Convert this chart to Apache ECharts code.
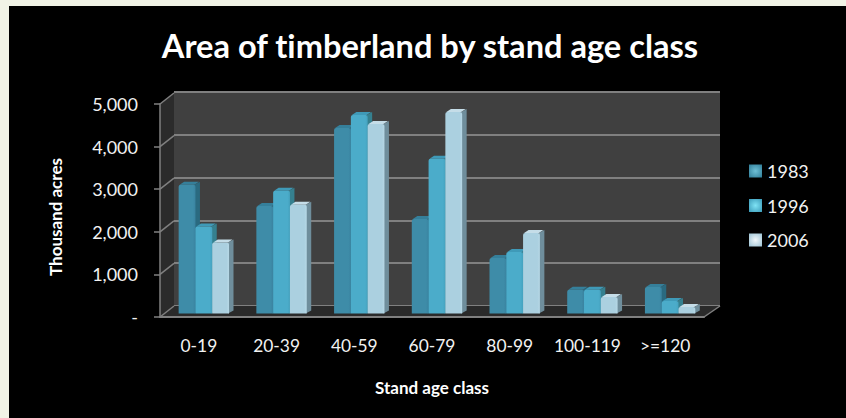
<!DOCTYPE html>
<html>
<head>
<meta charset="utf-8">
<title>Area of timberland by stand age class</title>
<script src="https://cdn.jsdelivr.net/npm/echarts@6/dist/echarts.min.js"></script>
<style>
  html, body { margin: 0; padding: 0; background: #f1f3e6; overflow: hidden; }
  #panel { position: absolute; left: 9px; top: 6px; right: 0; bottom: 0; background: #000; }
  #chart { position: absolute; left: 0; top: 0; width: 846px; height: 418px; }
  #chart text { font-variant-ligatures: none; }
</style>
</head>
<body>
<div id="panel"></div>
<div id="chart"></div>
<script>
var categories = ['0-19', '20-39', '40-59', '60-79', '80-99', '100-119', '>=120'];
var values1983 = [3020, 2525, 4355, 2220, 1305, 555, 625];
var values1996 = [2040, 2880, 4660, 3630, 1445, 555, 295];
var values2006 = [1665, 2550, 4450, 4730, 1890, 390, 155];
var yTicks = [0, 1000, 2000, 3000, 4000, 5000];

var fontName = 'Lato';
var frameColor = '#808080';
var depthX = 14;
var depthY = 11;

var chart = echarts.init(document.getElementById('chart'), null, { renderer: 'svg' });

// side wall, floor and the little diagonals joining front ticks to the back wall
var renderFrame = function(params, api) {
  var box = params.coordSys;
  var left = box.x;
  var right = box.x + box.width;
  var top = box.y;
  var bottom = box.y + box.height;
  var children = [{
    type: 'polygon',
    shape: { points: [[left, top], [left + depthX, top - depthY], [left + depthX, bottom - depthY], [left, bottom]] },
    style: { fill: '#2b2b2b' }
  }, {
    type: 'polygon',
    shape: { points: [[left, bottom], [left + depthX, bottom - depthY], [right + 16, bottom - depthY], [right, bottom]] },
    style: { fill: '#2a2a2a' }
  }, {
    type: 'line',
    shape: { x1: right, y1: bottom, x2: right + 16, y2: bottom - depthY },
    style: { stroke: frameColor, lineWidth: 1.5 }
  }];
  yTicks.forEach(function(t) {
    var y = api.coord([0, t])[1];
    children.push({
      type: 'line',
      shape: { x1: left, y1: y, x2: left + depthX, y2: y - depthY },
      style: { stroke: frameColor, lineWidth: 1.5 }
    });
  });
  return { type: 'group', children: children };
};

var barSeries = function(name, values, slot, colors) {
  return {
    name: name,
    type: 'custom',
    xAxisIndex: 0,
    yAxisIndex: 0,
    z: 2,
    data: values.map(function(v, i) { return [i, v]; }),
    encode: { x: 0, y: 1 },
    renderItem: function(params, api) {
      var band = api.size([1, 0])[0];
      var w = band * 0.216;
      var p = api.coord([api.value(0), api.value(1)]);
      var base = api.coord([api.value(0), 0])[1] - 3.5;
      var x = p[0] - band / 2 + band * 0.24 + slot * w;
      var y = p[1] - 3.5;
      var d = 4.5;
      var dy = 3;
      return {
        type: 'group',
        children: [{
          type: 'polygon',
          shape: { points: [[x + w - 1, y], [x + w + d, y - dy], [x + w + d, base - dy], [x + w - 1, base]] },
          style: { fill: colors.side }
        }, {
          type: 'polygon',
          shape: { points: [[x + 1, y], [x + w - 1, y], [x + w + d - 1, y - dy], [x + d + 1, y - dy]] },
          style: { fill: colors.top }
        }, {
          type: 'rect',
          shape: { x: x, y: y, width: w, height: base - y, r: [2, 2, 0, 0] },
          style: {
            fill: new echarts.graphic.LinearGradient(0, 0, 1, 0, [
              { offset: 0, color: colors.front },
              { offset: 0.85, color: colors.front },
              { offset: 1, color: colors.edge }
            ])
          }
        }]
      };
    }
  };
};

var legendIcon = function(center, edge) {
  return new echarts.graphic.RadialGradient(0.5, 0.5, 0.7, [
    { offset: 0, color: center },
    { offset: 1, color: edge }
  ]);
};

chartSettings = {
  animation: false,
  textStyle: { fontFamily: fontName },
  title: {
    text: 'Area of timberland by stand age class',
    left: 425,
    top: 24,
    textAlign: 'center',
    textStyle: { color: '#ffffff', fontSize: 32.6, fontWeight: 'bold', fontFamily: fontName }
  },
  legend: {
    left: 744,
    top: 157,
    orient: 'vertical',
    itemWidth: 13,
    itemHeight: 13,
    itemGap: 16.5,
    icon: 'rect',
    textStyle: { color: '#f2f2f2', fontSize: 18, fontFamily: fontName },
    data: [
      { name: '1983', itemStyle: { color: legendIcon('#6fc0d6', '#2f7d98') } },
      { name: '1996', itemStyle: { color: legendIcon('#7fe3f5', '#3a9ab8') } },
      { name: '2006', itemStyle: { color: legendIcon('#f2f8fb', '#9cc3d5') } }
    ]
  },
  grid: [
    { left: 160, right: 142, top: 104, bottom: 101 },
    { left: 174, right: 126, top: 92, bottom: 112, show: true, backgroundColor: '#404040', borderWidth: 0 }
  ],
  xAxis: [{
    type: 'category',
    gridIndex: 0,
    data: categories,
    z: 3,
    name: 'Stand age class',
    nameLocation: 'middle',
    nameGap: 62,
    nameTextStyle: { color: '#ffffff', fontWeight: 'bold', fontSize: 17, fontFamily: fontName },
    axisLine: { lineStyle: { color: frameColor, width: 2 } },
    axisTick: { length: 6, lineStyle: { color: frameColor, width: 1.5 } },
    axisLabel: { color: '#f2f2f2', fontSize: 17.4, margin: 20, interval: 0, fontFamily: fontName }
  }, {
    type: 'category',
    gridIndex: 1,
    data: categories,
    axisLine: { show: false },
    axisTick: { show: false },
    axisLabel: { show: false }
  }],
  yAxis: [{
    type: 'value',
    gridIndex: 0,
    min: 0,
    max: 5000,
    interval: 1000,
    z: 3,
    name: 'Thousand acres',
    nameLocation: 'middle',
    nameGap: 96,
    nameTextStyle: { color: '#ffffff', fontWeight: 'bold', fontSize: 17, fontFamily: fontName, padding: [0, 13, 0, 0] },
    splitLine: { show: false },
    axisLine: { show: true, lineStyle: { color: frameColor, width: 1.5 } },
    axisTick: { show: true, length: 6, lineStyle: { color: frameColor, width: 1.5 } },
    axisLabel: {
      color: '#f2f2f2',
      fontSize: 18,
      margin: 22,
      fontFamily: fontName,
      formatter: function(v) { return v === 0 ? '-' : v.toLocaleString('en-US'); }
    }
  }, {
    type: 'value',
    gridIndex: 1,
    min: 0,
    max: 5000,
    interval: 1000,
    splitLine: { show: true, lineStyle: { color: frameColor, width: 2 } },
    axisLine: { show: false },
    axisTick: { show: false },
    axisLabel: { show: false }
  }],
  series: [{
    type: 'custom',
    silent: true,
    xAxisIndex: 0,
    yAxisIndex: 0,
    z: 1,
    data: [[0, 0]],
    encode: { x: 0, y: 1 },
    renderItem: renderFrame
  },
    barSeries('1983', values1983, 0, { front: '#3e8ca8', edge: '#3a83a0', side: '#2a6a80', top: '#357f9a' }),
    barSeries('1996', values1996, 1, { front: '#4bacca', edge: '#45a2bf', side: '#35808f', top: '#3f9ab8' }),
    barSeries('2006', values2006, 2, { front: '#abd0e0', edge: '#b7d8e6', side: '#6f8e9c', top: '#c5dde8' })
  ]
};

chart.setOption(chartSettings);
</script>
</body>
</html>
